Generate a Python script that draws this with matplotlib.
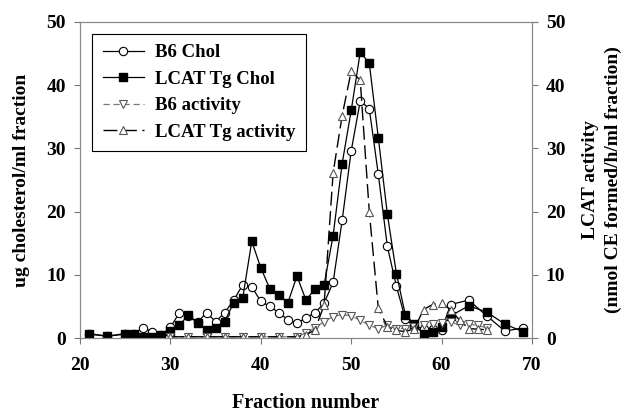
import matplotlib
matplotlib.use("Agg")
import matplotlib.pyplot as plt

plt.rcParams['font.family'] = ['Liberation Serif', 'DejaVu Serif']
plt.rcParams['font.weight'] = 'bold'

# fracciones y colesterol (ug/ml)
chol_x = [21, 23, 25, 26, 27, 28, 29, 30, 31, 32, 33, 34, 35, 36, 37, 38, 39, 40,
          41, 42, 43, 44, 45, 46, 47, 48, 49, 50, 51, 52, 53, 54, 55, 56, 57, 58,
          59, 60, 61, 63, 65, 67, 69]
b6_chol = [0.6, 0.3, 0.7, 0.7, 1.6, 1.0, 0.5, 1.7, 4.0, 3.5, 2.5, 4.0, 2.6, 4.0,
           6.0, 8.4, 8.1, 5.8, 5.0, 4.0, 2.9, 2.3, 3.2, 4.0, 5.5, 8.8, 18.6, 29.6,
           37.5, 36.3, 25.9, 14.5, 8.2, 3.0, 1.8, 1.5, 1.5, 1.3, 5.3, 6.0, 3.5,
           1.1, 1.6]
tg_chol = [0.7, 0.3, 0.6, 0.6, 0.1, 0.1, 0.5, 1.1, 2.0, 3.7, 2.3, 1.3, 1.6, 2.6,
           5.6, 6.3, 15.3, 11.1, 7.8, 6.8, 5.6, 9.8, 6.0, 7.8, 8.4, 16.2, 27.6,
           36.0, 45.2, 43.5, 31.7, 19.6, 10.2, 3.6, 2.2, 0.6, 0.9, 1.8, 3.5, 5.1,
           4.1, 2.2, 1.0]

# actividad LCAT (nmol CE/h/ml)
act_x = [30, 32, 34, 36, 38, 40, 42, 44, 45, 46, 47, 48, 49, 50, 51, 52, 53, 54,
         55, 56, 57, 58, 59, 60, 61, 62, 63, 64, 65]
b6_act = [0.2, 0.2, 0.2, 0.2, 0.2, 0.2, 0.2, 0.2, 0.8, 1.6, 2.6, 3.4, 3.7, 3.5,
          2.8, 2.0, 1.5, 2.0, 1.5, 1.5, 1.8, 2.0, 2.2, 2.4, 2.6, 2.0, 2.2, 2.0, 1.6]
tg_act = [0.2, 0.2, 0.2, 0.2, 0.2, 0.2, 0.2, 0.2, 0.5, 1.3, 5.2, 26.1, 35.2, 42.2,
          40.8, 20.0, 4.7, 1.8, 1.2, 1.0, 1.5, 4.5, 5.3, 5.5, 4.5, 2.8, 1.5, 1.4, 1.3]

fig = plt.figure(figsize=(6.28, 4.15), dpi=100)
ax = fig.add_axes([0.1274, 0.1855, 0.7197, 0.7615])
ax2 = ax.twinx()

l1, = ax.plot(chol_x, b6_chol, '-', color='black', lw=0.9, marker='o', ms=6,
              mfc='white', mec='black', mew=0.8, label='B6 Chol')
l2, = ax.plot(chol_x, tg_chol, '-', color='black', lw=0.9, marker='s', ms=5.5,
              mfc='black', mec='black', label='LCAT Tg Chol')
l3, = ax2.plot(act_x, b6_act, color='#777777', lw=0.9, dashes=(5, 3),
               marker='v', ms=6, mfc='white', mec='#555555', mew=0.8,
               label='B6 activity')
l4, = ax2.plot(act_x, tg_act, color='black', lw=1.0, dashes=(10, 4),
               marker='^', ms=6, mfc='white', mec='#555555', mew=0.8,
               label='LCAT Tg activity')

for a in (ax, ax2):
    a.set_ylim(0, 50)
    a.set_yticks([0, 10, 20, 30, 40, 50])
    a.tick_params(labelsize=14, length=4, width=0.8, color='#777777', pad=6)
    for s in a.spines.values():
        s.set_color('#888888')
        s.set_linewidth(0.8)
ax.set_xlim(20, 70)
ax.set_xticks([20, 30, 40, 50, 60, 70])
ax.tick_params(axis='x', pad=10)

ax.set_xlabel('Fraction number', fontsize=14.5, fontweight='bold', labelpad=13)
ax.set_ylabel('ug cholesterol/ml fraction', fontsize=14, fontweight='bold', labelpad=12)
ax2.set_ylabel('LCAT activity\n(nmol CE formed/h/ml fraction)', fontsize=14,
               fontweight='bold', labelpad=12, linespacing=1.45)

leg = ax.legend(handles=[l1, l2, l3, l4], loc='upper left',
                bbox_to_anchor=(0.027, 0.962), borderaxespad=0, fontsize=13.5,
                fancybox=False, edgecolor='black', framealpha=1,
                handlelength=2.2, handletextpad=0.6, labelspacing=0.5,
                borderpad=0.55)
leg.get_frame().set_linewidth(0.8)

fig.savefig('out.png', dpi=100)
